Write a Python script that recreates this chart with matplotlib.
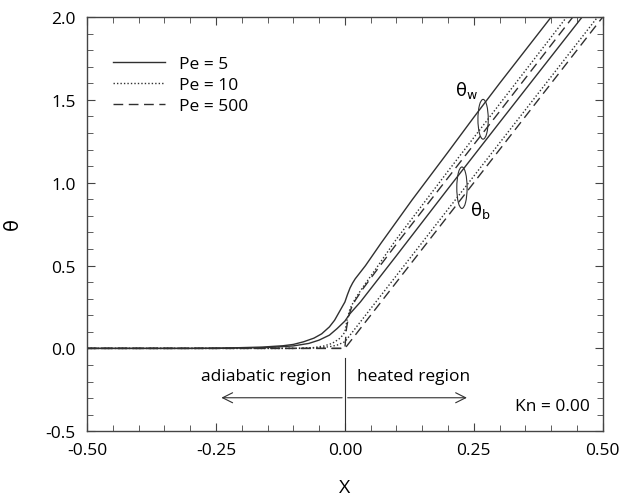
import matplotlib
matplotlib.use("Agg")
import matplotlib.pyplot as plt
from matplotlib.patches import Ellipse
from matplotlib.ticker import MultipleLocator, FormatStrFormatter

plt.rcParams['font.family'] = ['Open Sans', 'DejaVu Sans']

# wall temperature, Pe = 5
x_w5 = [-0.5, -0.3, -0.22, -0.16, -0.12, -0.1, -0.08, -0.06, -0.045, -0.03, -0.02,
        -0.01, 0.0, 0.005, 0.01, 0.015, 0.02, 0.03, 0.04, 0.05, 0.07, 0.1, 0.13,
        0.165, 0.2, 0.25, 0.3, 0.35, 0.4]
t_w5 = [0.0, 0.0, 0.003, 0.008, 0.016, 0.024, 0.04, 0.062, 0.088, 0.13, 0.17,
        0.225, 0.28, 0.325, 0.365, 0.395, 0.42, 0.46, 0.5, 0.545, 0.635, 0.765, 0.895,
        1.04, 1.185, 1.395, 1.6, 1.8, 2.0]
# bulk temperature, Pe = 5
x_b5 = [-0.5, -0.25, -0.15, -0.1, -0.07, -0.05, -0.03, -0.015, 0.0, 0.01, 0.03,
        0.06, 0.1, 0.2, 0.3, 0.46]
t_b5 = [0.0, 0.0, 0.005, 0.015, 0.03, 0.05, 0.08, 0.12, 0.165, 0.21, 0.28,
        0.4, 0.56, 0.964, 1.364, 2.0]
# wall temperature, Pe = 10
x_w10 = [-0.5, -0.1, -0.06, -0.04, -0.025, -0.012, -0.004, 0.0, 0.004, 0.01, 0.02,
         0.035, 0.06, 0.1, 0.2, 0.3, 0.43]
t_w10 = [0.0, 0.0, 0.005, 0.015, 0.03, 0.055, 0.08, 0.1, 0.17, 0.24, 0.3,
         0.37, 0.48, 0.66, 1.07, 1.475, 2.0]
# bulk temperature, Pe = 10
x_b10 = [-0.5, -0.08, -0.05, -0.03, -0.015, 0.0, 0.02, 0.05, 0.1, 0.3, 0.49]
t_b10 = [0.0, 0.0, 0.004, 0.01, 0.02, 0.04, 0.12, 0.24, 0.44, 1.24, 2.0]
# wall temperature, Pe = 500
x_w500 = [-0.5, 0.0, 0.003, 0.007, 0.012, 0.02, 0.035, 0.06, 0.1, 0.2, 0.3, 0.442]
t_w500 = [0.0, 0.0, 0.12, 0.19, 0.24, 0.29, 0.36, 0.465, 0.63, 1.03, 1.43, 2.0]
# bulk temperature, Pe = 500
x_b500 = [-0.5, 0.0, 0.5]
t_b500 = [0.0, 0.0, 2.0]

lc = '#303030'
fs = 12.5
fig = plt.figure(figsize=(6.22, 5.02), dpi=100)
ax = fig.add_axes([0.140, 0.139, 0.829, 0.825])

ax.plot(x_b500, t_b500, color=lc, lw=1.0, ls=(0, (7, 4)))
ax.plot(x_w500, t_w500, color=lc, lw=1.0, ls=(0, (7, 4)), label='Pe = 500')
ax.plot(x_b10, t_b10, color=lc, lw=1.0, ls=(0, (1, 1.5)))
ax.plot(x_w10, t_w10, color=lc, lw=1.0, ls=(0, (1, 1.5)), label='Pe = 10')
ax.plot(x_b5, t_b5, color=lc, lw=1.0)
ax.plot(x_w5, t_w5, color=lc, lw=1.0, label='Pe = 5')

h, l = ax.get_legend_handles_labels()
ax.legend(h[::-1], l[::-1], loc='upper left', bbox_to_anchor=(0.02, 0.945),
          frameon=False, fontsize=fs, handlelength=3.0, handletextpad=0.8,
          labelspacing=0.3)

# region marks
ax.plot([0, 0], [-0.5, -0.06], color=lc, lw=0.8)
ax.annotate('', xy=(-0.245, -0.298), xytext=(0.0, -0.298),
            arrowprops=dict(arrowstyle='->', color=lc, lw=0.8, mutation_scale=18))
ax.annotate('', xy=(0.242, -0.298), xytext=(0.0, -0.298),
            arrowprops=dict(arrowstyle='->', color=lc, lw=0.8, mutation_scale=18))
ax.text(-0.153, -0.167, 'adiabatic region', ha='center', va='center', fontsize=fs)
ax.text(0.134, -0.167, 'heated region', ha='center', va='center', fontsize=fs)
ax.text(0.475, -0.35, 'Kn = 0.00', ha='right', va='center', fontsize=fs)

ax.add_patch(Ellipse((0.268, 1.383), 0.02, 0.24, fill=False, ec=lc, lw=0.8))
ax.add_patch(Ellipse((0.227, 0.970), 0.02, 0.25, fill=False, ec=lc, lw=0.8))
ax.text(0.236, 1.56, r'$\mathrm{\theta_w}$', ha='center', va='center', fontsize=13)
ax.text(0.262, 0.84, r'$\mathrm{\theta_b}$', ha='center', va='center', fontsize=13)

ax.set_xlim(-0.5, 0.5)
ax.set_ylim(-0.5, 2.0)
ax.xaxis.set_major_locator(MultipleLocator(0.25))
ax.xaxis.set_minor_locator(MultipleLocator(0.05))
ax.yaxis.set_major_locator(MultipleLocator(0.5))
ax.yaxis.set_minor_locator(MultipleLocator(0.1))
ax.xaxis.set_major_formatter(FormatStrFormatter('%.2f'))
ax.yaxis.set_major_formatter(FormatStrFormatter('%.1f'))
ax.tick_params(which='both', direction='in', top=True, right=True,
               color='#444444', labelsize=fs, pad=8)
ax.tick_params(which='major', length=6)
ax.tick_params(which='minor', length=4)
for s in ax.spines.values():
    s.set_color('#444444')
    s.set_linewidth(1.0)

ax.set_xlabel('X', fontsize=14, labelpad=14)
ax.set_ylabel(r'$\mathrm{\theta}$', fontsize=14, labelpad=16)

fig.savefig('out.png', dpi=100)
